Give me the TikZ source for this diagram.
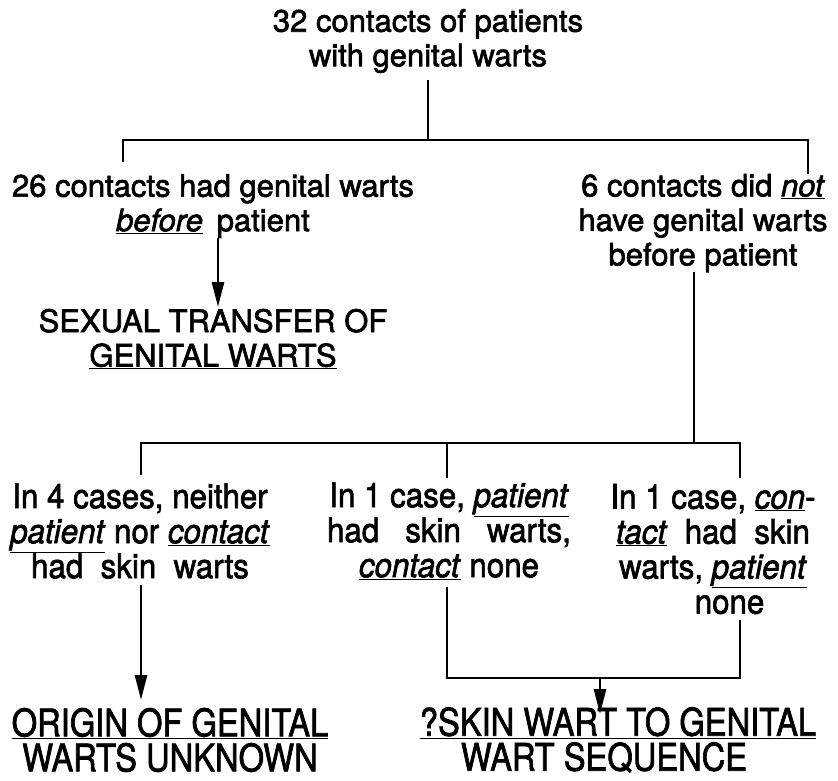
\documentclass[tikz,border=0pt]{standalone}
\usepackage{graphicx}
\usepackage{fontspec}
\setmainfont{TeX Gyre Heros}[FakeBold=2]
\usetikzlibrary{arrows.meta}
\newcommand{\cnd}[1]{\scalebox{0.92}[1]{#1}}
\newcommand{\cnb}[1]{\scalebox{0.86}[1]{#1}}
\newcommand{\ui}[1]{\underline{\textit{#1}}}
\begin{document}
\begin{tikzpicture}[x=1pt,y=-1pt,
  uptext/.style={font=\fontsize{31}{34.5}\selectfont, align=center, inner sep=0pt},
  lotext/.style={font=\fontsize{34}{35}\selectfont, align=center, inner sep=0pt},
  bottext/.style={font=\fontsize{38}{35}\selectfont, align=center, inner sep=0pt},
  conn/.style={line width=2.8pt, line cap=butt},
  arr/.style={conn, -{Triangle[length=25pt,width=12pt]}}]
\useasboundingbox (0,0) rectangle (838,780);
% nodes
\node[uptext] (top) at (428,41) {32 contacts of patients\\with genital warts};
\node[uptext] (had) at (213,206) {26 contacts had genital warts\\\ui{before}\, patient};
\node[uptext] (sex) at (213,339) {SEXUAL TRANSFER OF\\\underline{GENITAL WARTS}};
\node[uptext] (not) at (703,223) {6 contacts did \ui{not}\\have genital warts\\before patient};
\node[lotext] (neither) at (140,531) {\cnd{In 4 cases, neither}\\\cnd{\ui{patient} nor \ui{contact}}\\\cnd{had\ \ skin\ \ warts}};
\node[lotext] (pat) at (449,531) {\cnd{In 1 case, \ui{patient}}\\\cnd{had\ \ \ skin\ \ \ warts,}\\\cnd{\ui{contact} none}};
\node[lotext] (con) at (713,549) {\cnd{In 1 case, \ui{con}-}\\\cnd{\ui{tact}\ \ had\ \ skin}\\\cnd{warts, \ui{patient}}\\\cnd{\hspace*{36pt}none}};
\node[bottext] (orig) at (170,740) {\cnb{\underline{ORIGIN OF GENITAL}}\\\cnb{WARTS UNKNOWN}};
\node[bottext] (skin) at (618,740) {\cnb{\underline{?SKIN WART TO GENITAL}}\\\cnb{WART SEQUENCE}\hspace*{28pt}};
% junctions
\coordinate (j1) at (428,140);
\coordinate (jl) at (123,140);
\coordinate (jr) at (808,140);
\coordinate (j2) at (694,443);
\coordinate (ja) at (141,443);
\coordinate (jb) at (447,443);
\coordinate (jc) at (740,443);
\coordinate (kb) at (447,678);
\coordinate (kc) at (740,678);
\coordinate (km) at (600,678);
% top split
\draw[conn] (top.south |- 0,80) -- (j1);
\draw[conn] (jl |- had.north) ++(0,-12) -- (jl) -- (jr) -- ++(0,34);
\draw[arr] (218,238) -- (218,307);
% right branch
\draw[conn] (694,272) -- (j2);
\draw[conn] (ja) ++(0,32) -- (ja) -- (jc) -- ++(0,35);
\draw[conn] (jb) -- ++(0,35);
% lower
\draw[arr] (141,585) -- (141,700);
\draw[conn] (447,587) -- (kb) -- (kc) -- (740,620);
\draw[arr] (km) -- (600,714);
\end{tikzpicture}
\end{document}
